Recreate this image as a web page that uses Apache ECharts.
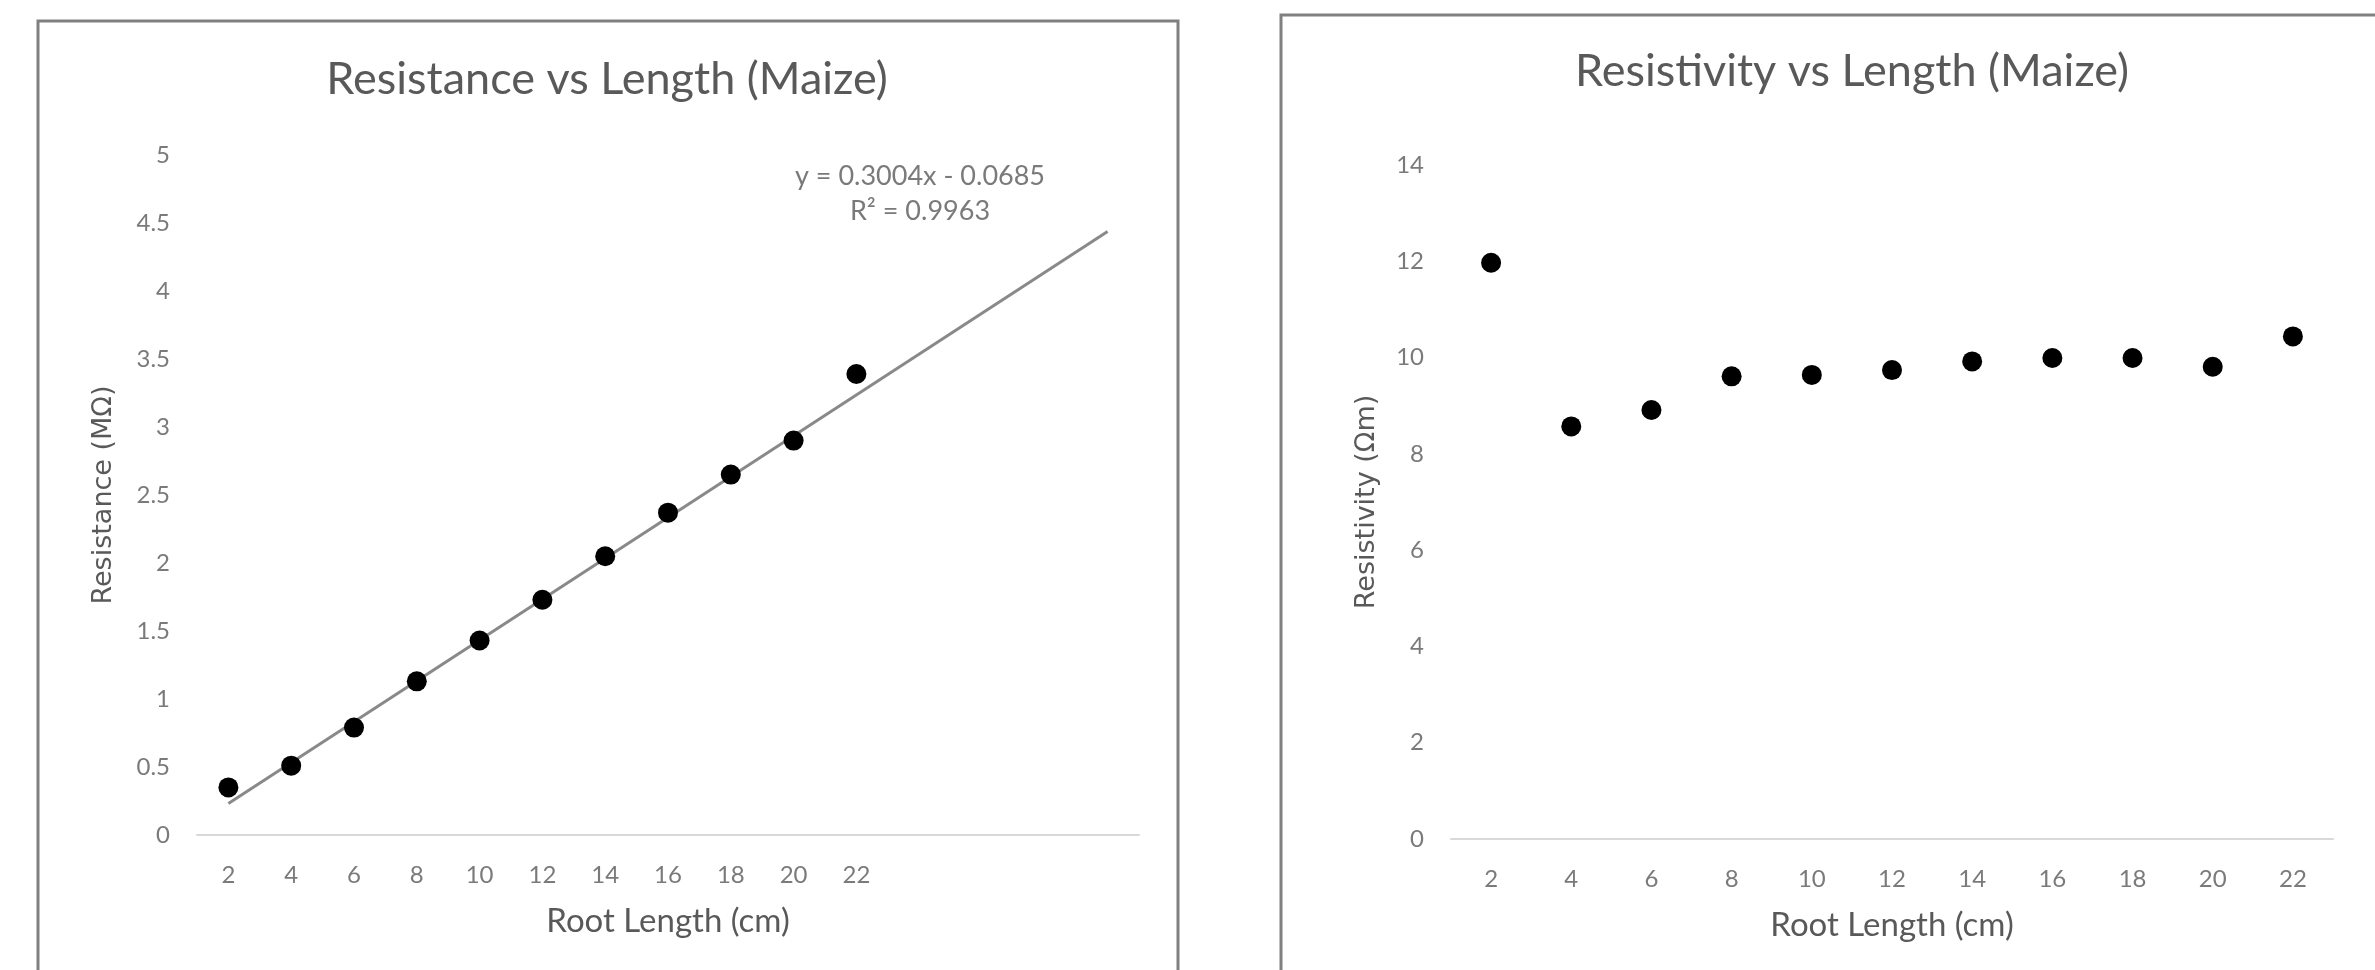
<!DOCTYPE html>
<html>
<head>
<meta charset="utf-8">
<script src="https://cdn.jsdelivr.net/npm/echarts@6/dist/echarts.min.js"></script>
<style>
html,body{margin:0;padding:0;background:#fff;}
#chart{width:2375px;height:970px;}
</style>
</head>
<body>
<div id="chart"></div>
<script>
// ---- data ----
var rootLengths = [2, 4, 6, 8, 10, 12, 14, 16, 18, 20, 22];
var forecastSlots = ['', '', '', ''];
var resistance = [0.35, 0.51, 0.79, 1.13, 1.43, 1.73, 2.05, 2.37, 2.65, 2.90, 3.39];
var resistivity = [11.97, 8.57, 8.91, 9.61, 9.64, 9.74, 9.92, 9.99, 9.99, 9.81, 10.44];
var trendX = [0, 14];            // category positions of the linear trendline ends (forecast 4 forward)
var trendY = [0.232, 4.437];     // y = 0.3004x - 0.0685
var trendEquation = 'y = 0.3004x - 0.0685';
var trendR2 = 'R² = 0.9963';
var resistanceTicks = {min: 0, max: 5, interval: 0.5};
var resistivityTicks = {min: 0, max: 14, interval: 2};

// ---- chart ----
var leftCats = rootLengths.map(String).concat(forecastSlots);
var rightCats = rootLengths.map(String);
var FONT = 'Lato';
var TXT = '#595959';
var TICK = '#7a7a7a';

var chart = echarts.init(document.getElementById('chart'), null, {renderer: 'canvas'});

function xAxisCfg(gridIndex, cats) {
  return {
    type: 'category', gridIndex: gridIndex, data: cats, boundaryGap: true,
    axisLine: {show: true, lineStyle: {color: '#d9d9d9', width: 2}},
    axisTick: {show: false},
    axisLabel: {color: TICK, fontFamily: FONT, fontSize: 24, margin: 28},
    splitLine: {show: false},
    name: 'Root Length (cm)', nameLocation: 'middle', nameGap: 70,
    nameTextStyle: {color: TXT, fontFamily: FONT, fontSize: 33}
  };
}
function yAxisCfg(gridIndex, ticks, name, gap) {
  return {
    type: 'value', gridIndex: gridIndex, min: ticks.min, max: ticks.max, interval: ticks.interval,
    axisLine: {show: false}, axisTick: {show: false}, splitLine: {show: false},
    axisLabel: {color: TICK, fontFamily: FONT, fontSize: 24, margin: 27},
    name: name, nameLocation: 'middle', nameGap: gap,
    nameTextStyle: {color: TXT, fontFamily: 'DejaVu Sans', fontSize: 27}
  };
}

var option = {
  backgroundColor: '#ffffff',
  animation: false,
  grid: [
    {left: 197, top: 155, width: 942, height: 680},
    {left: 1451, top: 165, width: 882, height: 674}
  ],
  xAxis: [xAxisCfg(0, leftCats), xAxisCfg(1, rightCats)],
  yAxis: [
    yAxisCfg(0, resistanceTicks, 'Resistance (MΩ)', 80),
    yAxisCfg(1, resistivityTicks, 'Resistivity (Ωm)', 71)
  ],
  series: [
    {
      type: 'line', xAxisIndex: 0, yAxisIndex: 0,
      data: trendX.map(function (x, i) { return [x, trendY[i]]; }),
      symbol: 'none', lineStyle: {color: '#898989', width: 3}, z: 1, silent: true
    },
    {
      type: 'scatter', xAxisIndex: 0, yAxisIndex: 0,
      data: resistance.map(function (v, i) { return [i, v]; }),
      symbol: 'circle', symbolSize: 20, itemStyle: {color: '#000', opacity: 1}, z: 2
    },
    {
      type: 'scatter', xAxisIndex: 1, yAxisIndex: 1,
      data: resistivity.map(function (v, i) { return [i, v]; }),
      symbol: 'circle', symbolSize: 20, itemStyle: {color: '#000', opacity: 1}, z: 2
    }
  ],
  graphic: [
    {type: 'rect', shape: {x: 38, y: 21, width: 1140, height: 1100},
     style: {fill: null, stroke: '#808080', lineWidth: 3}, silent: true, z: -1},
    {type: 'rect', shape: {x: 1281, y: 15, width: 1300, height: 1100},
     style: {fill: null, stroke: '#808080', lineWidth: 3}, silent: true, z: -1},
    {type: 'text', x: 607, y: 79,
     style: {text: 'Resistance vs Length (Maize)', fill: TXT, font: '45px ' + FONT, textAlign: 'center', textVerticalAlign: 'middle'}},
    {type: 'text', x: 1852, y: 71,
     style: {text: 'Resistivity vs Length (Maize)', fill: TXT, font: '45px ' + FONT, textAlign: 'center', textVerticalAlign: 'middle'}},
    {type: 'text', x: 920, y: 176,
     style: {text: trendEquation, fill: TICK, font: '27px ' + FONT, textAlign: 'center', textVerticalAlign: 'middle'}},
    {type: 'text', x: 920, y: 211,
     style: {text: trendR2, fill: TICK, font: '27px ' + FONT, textAlign: 'center', textVerticalAlign: 'middle'}}
  ]
};
chart.setOption(option);
</script>
</body>
</html>
